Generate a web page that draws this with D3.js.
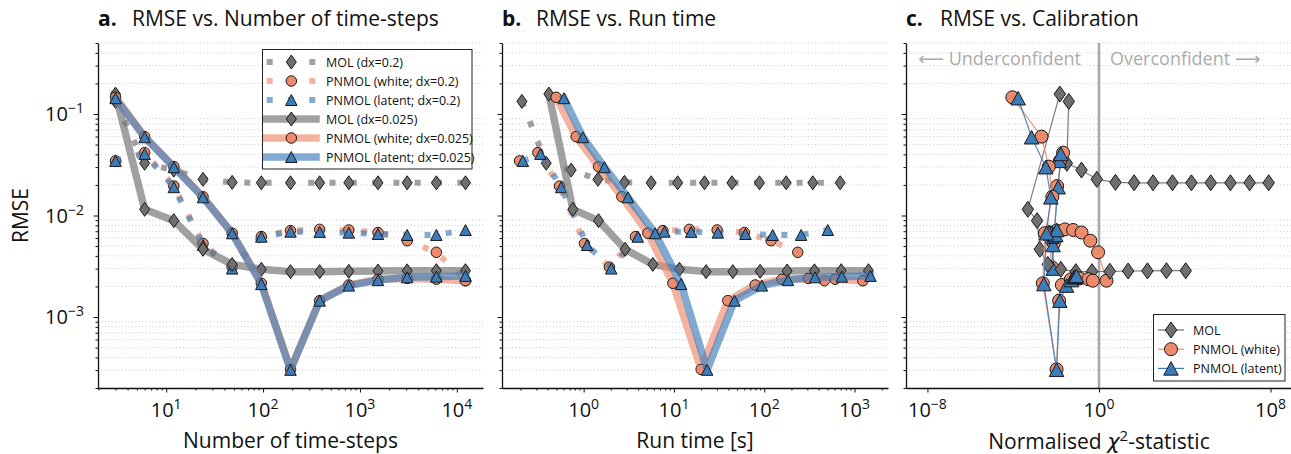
<!DOCTYPE html>
<html>
<head>
<meta charset="utf-8">
<script src="https://cdn.jsdelivr.net/npm/d3@7"></script>
<style>
  body { margin: 0; background: #fff; }
  svg { font-family: "Open Sans", "Noto Sans", "DejaVu Sans", sans-serif; }
</style>
</head>
<body>
<div id="chart"></div>
<script>
//==================== DATA ====================

const steps = [3, 6, 12, 24, 48, 96, 192, 384, 768, 1536, 3072, 6144, 12288]

// RMSE
const rmseMolCoarse    = [0.133, 0.0327, 0.028, 0.0227, 0.0212, 0.021, 0.021, 0.021, 0.021, 0.021, 0.021, 0.021, 0.021]
const rmseWhiteCoarse  = [0.0345, 0.0416, 0.0195, 0.0053, 0.0031, 0.0062, 0.0071, 0.0073, 0.0072, 0.0068, 0.00565, 0.00434, 0.00228]
const rmseLatentCoarse = [0.0345, 0.0404, 0.019, 0.00512, 0.003, 0.00618, 0.00693, 0.0069, 0.00678, 0.00658, 0.00643, 0.00643, 0.0072]
const rmseMolFine      = [0.157, 0.0115, 0.0089, 0.00465, 0.0033, 0.00295, 0.0028, 0.0028, 0.00282, 0.00284, 0.00285, 0.00286, 0.00286]
const rmseWhiteFine    = [0.146, 0.0598, 0.0303, 0.0153, 0.0067, 0.00215, 0.000305, 0.00145, 0.00207, 0.00235, 0.0024, 0.00236, 0.00228]
const rmseLatentFine   = [0.143, 0.059, 0.0299, 0.0151, 0.00668, 0.00211, 0.000302, 0.00145, 0.00204, 0.00231, 0.00246, 0.0025, 0.00254]

// run time [s]
const timeMolCoarse    = [0.207, 0.385, 0.727, 1.44, 2.83, 5.59, 11.0, 21.8, 43.8, 88.5, 175, 345, 693]
const timeWhiteCoarse  = [0.195, 0.311, 0.54, 1.02, 1.93, 3.75, 7.54, 14.8, 30.1, 60.3, 119, 235, 464]
const timeLatentCoarse = [0.212, 0.332, 0.563, 1.09, 2.02, 3.98, 7.85, 15.5, 30.6, 61.9, 124, 256, 506]
const timeMolFine      = [0.412, 0.759, 1.46, 2.88, 5.84, 11.5, 22.7, 44.9, 90.1, 179, 360, 711, 1425]
const timeWhiteFine    = [0.496, 0.826, 1.46, 2.65, 5.14, 9.73, 20.0, 39.5, 79.3, 157, 308, 610, 1236]
const timeLatentFine   = [0.604, 0.98, 1.70, 3.09, 6.19, 12.0, 23.3, 46.8, 94.1, 183, 366, 723, 1500]

// normalised chi^2 statistic
const chiMolCoarse    = [0.039, 0.0316, 0.153, 0.79, 5.87, 43.2, 332, 2660, 20400, 1.62e5, 1.34e6, 1.06e7, 8.17e7]
const chiWhiteCoarse  = [0.0149, 0.0212, 0.0112, 0.0078, 0.0063, 0.0046, 0.0105, 0.0255, 0.0621, 0.153, 0.393, 0.908, 2.24]
const chiLatentCoarse = [0.0141, 0.0166, 0.0124, 0.00726, 0.00726, 0.00612, 0.00411, 0.0051, 0.0063, 0.0078, 0.0087, 0.0097, 0.0108]
const chiMolFine      = [0.0149, 0.00048, 0.0013, 0.00174, 0.0041, 0.0166, 0.083, 0.47, 3.2, 22.7, 182, 1400, 11100]
const chiWhiteFine    = [0.000091, 0.00209, 0.00458, 0.00667, 0.00298, 0.0024, 0.0105, 0.0138, 0.0185, 0.0485, 0.127, 0.317, 0.514]
const chiLatentFine   = [0.00017, 0.00072, 0.00332, 0.00568, 0.00358, 0.00268, 0.0105, 0.0149, 0.0306, 0.0523, 0.067, 0.0804, 0.0895]

const yTickExps = [-1, -2, -3]
const xTickExpsA = [1, 2, 3, 4]
const xTickExpsB = [0, 1, 2, 3]
const xTickExpsC = [-8, 0, 8]

//==================== STYLE ====================

const GRAY = '#6f6f6f', ORANGE = '#ec8b6c', BLUE = '#3c7cb9'
const lineOpacity = 0.65

const series = [
	{name: 'MOL (dx=0.2)', short: 'MOL', rmse: rmseMolCoarse, time: timeMolCoarse, chi: chiMolCoarse, color: GRAY, marker: 'd', dotted: true},
	{name: 'PNMOL (white; dx=0.2)', short: 'PNMOL (white)', rmse: rmseWhiteCoarse, time: timeWhiteCoarse, chi: chiWhiteCoarse, color: ORANGE, marker: 'o', dotted: true},
	{name: 'PNMOL (latent; dx=0.2)', short: 'PNMOL (latent)', rmse: rmseLatentCoarse, time: timeLatentCoarse, chi: chiLatentCoarse, color: BLUE, marker: '^', dotted: true},
	{name: 'MOL (dx=0.025)', short: 'MOL', rmse: rmseMolFine, time: timeMolFine, chi: chiMolFine, color: GRAY, marker: 'd', dotted: false},
	{name: 'PNMOL (white; dx=0.025)', short: 'PNMOL (white)', rmse: rmseWhiteFine, time: timeWhiteFine, chi: chiWhiteFine, color: ORANGE, marker: 'o', dotted: false},
	{name: 'PNMOL (latent; dx=0.025)', short: 'PNMOL (latent)', rmse: rmseLatentFine, time: timeLatentFine, chi: chiLatentFine, color: BLUE, marker: '^', dotted: false}
]
series.forEach(s => { s.steps = steps })

const small = {o: 10.5, tw: 11.5, th: 11, dw: 10, dh: 14}
const big = {o: 13, tw: 14.5, th: 13.5, dw: 11.5, dh: 16}

//==================== STRUCTURE ====================

const width = 1291, height = 454
const axTop = 43, axBottom = 388

const svg = d3.select('#chart').append('svg')
	.attr('width', width)
	.attr('height', height)

const y = d3.scaleLog().domain([2e-4, 0.5]).range([axBottom, axTop])

// matplotlib-like 5% margin in log space
const padLog = (vals) => {
	const [lo, hi] = d3.extent(vals).map(Math.log10)
	const m = (hi - lo) * 0.05
	return [Math.pow(10, lo - m), Math.pow(10, hi + m)]
}

const xA = d3.scaleLog().domain(padLog(steps)).range([98, 483])
const xB = d3.scaleLog().domain(padLog(series.flatMap(s => s.time))).range([502, 888])
const xC = d3.scaleLog().domain([1e-9, 1e9]).range([906, 1292])

const markerPath = (type, s) => {
	if (type === 'o') return d3.symbol(d3.symbolCircle, Math.PI * (s.o / 2) ** 2)()
	if (type === '^') return `M0,${-s.th / 2}L${s.tw / 2},${s.th / 2}L${-s.tw / 2},${s.th / 2}Z`
	return `M0,${-s.dh / 2}L${s.dw / 2},0L0,${s.dh / 2}L${-s.dw / 2},0Z`
}

const powText = (sel, exp) => {
	sel.append('tspan').text('10')
	sel.append('tspan').attr('dy', -8).attr('font-size', 14)
		.text(exp < 0 ? '\u2212' + (-exp) : exp)
}

const isPow10 = v => Math.abs(Math.log10(v) - Math.round(Math.log10(v))) < 1e-6
const yMinor = y.ticks().filter(v => !isPow10(v))
const yMajor = yTickExps.map(e => Math.pow(10, e))

const makeFrame = (x) => {
	const [x0, x1] = x.range()
	svg.append('g').selectAll('line')
		.data(yMinor)
		.enter()
		.append('line')
		.attr('x1', x0).attr('x2', x1)
		.attr('y1', d => y(d)).attr('y2', d => y(d))
		.attr('stroke', '#c4c4c4')
		.attr('stroke-width', 0.9)
		.attr('stroke-dasharray', '1,2.4')
}

const makeAxes = (x, xExps, showYLabels, minorX) => {
	const x0 = x.range()[0]
	const g = svg.append('g')

	const yax = g.append('g').attr('transform', `translate(${x0},0)`)
		.call(d3.axisLeft(y).tickValues(yMajor).tickSize(4.5).tickSizeOuter(0).tickFormat(''))
	yax.append('g').call(d3.axisLeft(y).tickValues(yMinor).tickSize(2.5).tickFormat(''))
		.select('.domain').remove()

	const xMajor = xExps.map(e => Math.pow(10, e))
	const xax = g.append('g').attr('transform', `translate(0,${axBottom})`)
		.call(d3.axisBottom(x).tickValues(xMajor).tickSize(4.5).tickSizeOuter(0).tickFormat(''))
	if (minorX) {
		const xMinor = x.ticks().filter(v => !isPow10(v))
		xax.append('g').call(d3.axisBottom(x).tickValues(xMinor).tickSize(2.5).tickFormat(''))
			.select('.domain').remove()
	}
	g.selectAll('.domain').attr('stroke', '#111').attr('stroke-width', 1.3)
	g.selectAll('.tick line').attr('stroke', '#111').attr('stroke-width', 1)

	const lab = g.append('g').attr('font-size', 20).attr('fill', '#111')
	xMajor.forEach((v, i) => {
		lab.append('text')
			.attr('x', x(v)).attr('y', 416.5)
			.attr('text-anchor', 'middle')
			.call(powText, xExps[i])
	})
	if (showYLabels) {
		yMajor.forEach((v, i) => {
			lab.append('text')
				.attr('x', x0 - 14).attr('y', y(v) + 7)
				.attr('text-anchor', 'end')
				.call(powText, yTickExps[i])
		})
	}
}

const makeTitle = (x, letter, text) => {
	const x0 = x.range()[0]
	const t = svg.append('text').attr('y', 26).attr('font-size', 21).attr('fill', '#111')
	t.append('tspan').attr('x', x0).attr('font-weight', 'bold').text(letter)
	t.append('tspan').attr('x', x0 + 34).text(text)
}

const drawSeries = (x, key, sizes, thin) => {
	const g = svg.append('g')
	series.forEach(s => {
		const pts = s[key].map((v, i) => [v, s.rmse[i]])
		const line = d3.line().x(d => x(d[0])).y(d => y(d[1]))
		const path = g.append('path')
			.attr('d', line(pts))
			.attr('fill', 'none')
			.attr('stroke', s.color)
			.attr('stroke-linejoin', 'round')
		if (thin) {
			path.attr('stroke-width', 1.2).attr('stroke-opacity', 0.9)
		} else if (s.dotted) {
			path.attr('stroke-width', 6).attr('stroke-opacity', lineOpacity)
				.attr('stroke-dasharray', '6,15.3').attr('stroke-linecap', 'butt')
		} else {
			path.attr('stroke-width', 7.5).attr('stroke-opacity', lineOpacity)
				.attr('stroke-linecap', 'square')
		}
		g.append('g').selectAll('path')
			.data(pts)
			.enter()
			.append('path')
			.attr('transform', d => `translate(${x(d[0])},${y(d[1])})`)
			.attr('d', markerPath(s.marker, sizes))
			.attr('fill', s.color)
			.attr('stroke', '#1a1a1a')
			.attr('stroke-width', 1)
	})
}

//==================== PANEL A ====================

makeFrame(xA)
drawSeries(xA, 'steps', small, false)
makeAxes(xA, xTickExpsA, true, true)
makeTitle(xA, 'a.', 'RMSE vs. Number of time-steps')

//==================== PANEL B ====================

makeFrame(xB)
drawSeries(xB, 'time', small, false)
makeAxes(xB, xTickExpsB, false, true)
makeTitle(xB, 'b.', 'RMSE vs. Run time')

//==================== PANEL C ====================

makeFrame(xC)
svg.append('line')
	.attr('x1', xC(1)).attr('x2', xC(1))
	.attr('y1', axTop).attr('y2', axBottom)
	.attr('stroke', '#a9a9a9').attr('stroke-width', 2.6)
svg.append('text')
	.attr('x', xC(1) - 18).attr('y', 65)
	.attr('text-anchor', 'end').attr('font-size', 18).attr('fill', '#ababab')
	.text('\u27f5 Underconfident')
svg.append('text')
	.attr('x', xC(1) + 11).attr('y', 65)
	.attr('font-size', 18).attr('fill', '#ababab')
	.text('Overconfident \u27f6')
drawSeries(xC, 'chi', big, true)
makeAxes(xC, xTickExpsC, false, false)
makeTitle(xC, 'c.', 'RMSE vs. Calibration')

//==================== LABELS ====================

const label = (x, yy, txt) => svg.append('text')
	.attr('x', x).attr('y', yy)
	.attr('text-anchor', 'middle').attr('font-size', 21).attr('fill', '#111')
	.text(txt)

label(d3.mean(xA.range()), 448, 'Number of time-steps')
label(d3.mean(xB.range()), 448, 'Run time [s]')
const chiLabel = svg.append('text')
	.attr('x', 1099).attr('y', 449)
	.attr('text-anchor', 'middle').attr('font-size', 21).attr('fill', '#111')
chiLabel.append('tspan').text('Normalised ')
chiLabel.append('tspan').attr('font-style', 'italic').attr('font-family', 'DejaVu Sans').text('\u03c7')
chiLabel.append('tspan').attr('dy', -8).attr('font-size', 15).text('2')
chiLabel.append('tspan').attr('dy', 8).text('-statistic')

svg.append('text')
	.attr('transform', `translate(20,${(axTop + axBottom) / 2}) rotate(-90)`)
	.attr('text-anchor', 'middle').attr('dominant-baseline', 'central')
	.attr('font-size', 21).attr('fill', '#111')
	.text('RMSE')

//==================== LEGENDS ====================

const legA = svg.append('g')
legA.append('rect')
	.attr('x', 262.5).attr('y', 49.5).attr('width', 209.5).attr('height', 119.5)
	.attr('fill', '#fff').attr('stroke', '#222').attr('stroke-width', 1)
series.forEach((s, i) => {
	const cy = 62 + 19 * i
	const ln = legA.append('line')
		.attr('x1', 266.7).attr('x2', 316).attr('y1', cy).attr('y2', cy)
		.attr('stroke', s.color).attr('stroke-opacity', lineOpacity)
	if (s.dotted) ln.attr('stroke-width', 6).attr('stroke-dasharray', '6,15.3')
	else ln.attr('stroke-width', 7.5).attr('stroke-linecap', 'square')
	legA.append('path')
		.attr('transform', `translate(291.3,${cy})`)
		.attr('d', markerPath(s.marker, small))
		.attr('fill', s.color).attr('stroke', '#1a1a1a').attr('stroke-width', 1)
	legA.append('text')
		.attr('x', 326).attr('y', cy).attr('dominant-baseline', 'central')
		.attr('font-size', 12.5).attr('fill', '#111')
		.text(s.name)
})

const legC = svg.append('g')
legC.append('rect')
	.attr('x', 1153.5).attr('y', 314.5).attr('width', 131.5).attr('height', 66.5)
	.attr('fill', '#fff').attr('stroke', '#222').attr('stroke-width', 1)
series.slice(0, 3).forEach((s, i) => {
	const cy = 330 + 19.2 * i
	legC.append('line')
		.attr('x1', 1158).attr('x2', 1184).attr('y1', cy).attr('y2', cy)
		.attr('stroke', s.color).attr('stroke-width', 1.2)
	legC.append('path')
		.attr('transform', `translate(1171,${cy})`)
		.attr('d', markerPath(s.marker, big))
		.attr('fill', s.color).attr('stroke', '#1a1a1a').attr('stroke-width', 1)
	legC.append('text')
		.attr('x', 1193).attr('y', cy).attr('dominant-baseline', 'central')
		.attr('font-size', 12.5).attr('fill', '#111')
		.text(s.short)
})
</script>
</body>
</html>
